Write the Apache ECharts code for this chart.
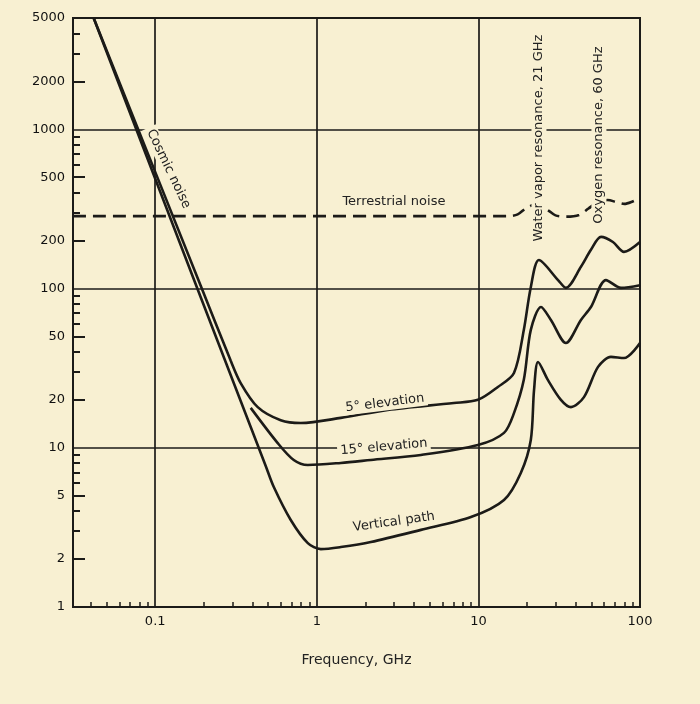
<!DOCTYPE html>
<html>
<head>
<meta charset="utf-8">
<script src="https://cdn.jsdelivr.net/npm/echarts@6/dist/echarts.min.js"></script>
<style>
html, body { margin: 0; padding: 0; background: #f8f0d2; }
#chart { width: 700px; height: 704px; }
</style>
</head>
<body>
<div id="chart"></div>
<script>
// axis labels and ticks
var xLabels = [0.1, 1, 10, 100];
var xMinorTicks = [0.04, 0.05, 0.06, 0.07, 0.08, 0.09,
    0.2, 0.3, 0.4, 0.5, 0.6, 0.7, 0.8, 0.9,
    2, 3, 4, 5, 6, 7, 8, 9,
    20, 30, 40, 50, 60, 70, 80, 90];
var yLabels = [1, 2, 5, 10, 20, 50, 100, 200, 500, 1000, 2000, 5000];
var yMajorTicks = [2, 5, 20, 50, 200, 500, 2000];
var yMinorTicks = [3, 4, 6, 7, 8, 9, 30, 40, 60, 70, 80, 90,
    300, 400, 600, 700, 800, 900, 3000, 4000];
var xGridLines = [0.1, 1, 10];
var yGridLines = [10, 100, 1000];

// [frequency GHz, noise temperature K]
var elevation5 = [[0.0416, 5000], [0.191, 104.6], [0.293, 35.3], [0.338, 25.5], [0.431, 18.0],
    [0.598, 14.9], [0.796, 14.3], [1.408, 15.4], [2.75, 17.3], [7.05, 19.1], [9.93, 20.0],
    [13.2, 24.1], [16.6, 29.5], [19.1, 55.0], [21.1, 102], [23.7, 151], [31.1, 113],
    [34.8, 101], [43.1, 137], [49.7, 175], [57.4, 211], [68, 196], [79.6, 170], [100, 196]];
var elevation15 = [[0.390, 17.8], [0.573, 10.7], [0.720, 8.38], [0.880, 7.80], [1.408, 8.03],
    [2.16, 8.38], [4.41, 9.01], [9.93, 10.4], [14.4, 12.4], [16.6, 16.5], [19.1, 26.7],
    [21.1, 55.0], [24.4, 76.6], [28.1, 63.5], [34.8, 45.5], [43.1, 63.5], [49.7, 76.6],
    [61.6, 113], [76.3, 101], [100, 105]];
var verticalPath = [[0.0416, 5000], [0.191, 88.5], [0.390, 13.5], [0.483, 7.69], [0.542, 5.67],
    [0.690, 3.52], [0.880, 2.52], [1.059, 2.31], [1.408, 2.38], [2.16, 2.56], [4.41, 3.05],
    [8.99, 3.67], [14.4, 4.70], [18.3, 6.95], [21.1, 11.2], [22.1, 23.1], [23.4, 34.6],
    [26.9, 26.7], [32.4, 20.0], [37.4, 18.0], [45.0, 20.8], [55.0, 32.2], [66.1, 37.2],
    [79.6, 36.6], [100, 45.5]];
var terrestrial = [[0.031, 285], [15.5, 285], [17.5, 292], [19.6, 318], [23, 340],
    [27, 310], [30, 288], [35, 283], [42, 290], [48, 318], [54, 345], [63, 360],
    [72, 348], [80, 340], [90, 352], [100, 370]];

// text notes, placed at [frequency, temperature]
var notes = [
    {text: 'Cosmic noise', at: [0.121, 564], rot: -64.5},
    {text: 'Terrestrial noise', at: [3.0, 350], rot: 0},
    {text: '5° elevation', at: [2.64, 19.1], rot: 7},
    {text: '15° elevation', at: [2.6, 10.1], rot: 5},
    {text: 'Vertical path', at: [3.0, 3.42], rot: 8},
    {text: 'Water vapor resonance, 21 GHz', at: [23.7, 880], rot: 90},
    {text: 'Oxygen resonance, 60 GHz', at: [55.7, 920], rot: 90}
];

var paper = '#f8f0d2';
var ink = '#1c1b18';
var font = '"DejaVu Sans", sans-serif';

function fmt(v) {
    return String(parseFloat(Number(v).toPrecision(6)));
}

function curve(name, data, dashed) {
    return {
        name: name,
        type: 'line',
        data: data,
        smooth: 0.3,
        showSymbol: false,
        silent: true,
        lineStyle: {color: ink, width: 2.6, type: dashed ? [13, 7] : 'solid'}
    };
}

var chart = echarts.init(document.getElementById('chart'));
var series = [
    curve('Vertical path', verticalPath),
    curve('5° elevation', elevation5),
    curve('15° elevation', elevation15),
    curve('Terrestrial noise', terrestrial, true)
];
series[0].markLine = {
    silent: true,
    symbol: ['none', 'none'],
    label: {show: false},
    lineStyle: {color: ink, width: 1.7, type: 'solid'},
    data: xGridLines.map(function (v) { return {xAxis: v}; })
        .concat(yGridLines.map(function (v) { return {yAxis: v}; }))
};

var option = {
    backgroundColor: paper,
    animation: false,
    grid: {
        left: 73, right: 60, top: 18, bottom: 97,
        show: true, borderColor: ink, borderWidth: 2, backgroundColor: 'transparent'
    },
    xAxis: {
        type: 'log',
        min: 0.031,
        max: 100,
        axisLine: {lineStyle: {color: ink, width: 2}},
        axisTick: {inside: true, length: 5, customValues: xMinorTicks, lineStyle: {color: ink, width: 1.5}},
        axisLabel: {customValues: xLabels, margin: 8, color: '#111', fontFamily: font, fontSize: 13, formatter: fmt},
        splitLine: {show: false},
        name: 'Frequency, GHz',
        nameLocation: 'middle',
        nameGap: 46,
        nameTextStyle: {color: '#222', fontFamily: font, fontSize: 14}
    },
    yAxis: [{
        type: 'log',
        min: 1,
        max: 5000,
        axisLine: {lineStyle: {color: ink, width: 2}},
        axisTick: {inside: true, length: 12, customValues: yMajorTicks, lineStyle: {color: ink, width: 2}},
        axisLabel: {customValues: yLabels, margin: 8, color: '#111', fontFamily: font, fontSize: 13, formatter: fmt},
        splitLine: {show: false}
    }, {
        type: 'log',
        min: 1,
        max: 5000,
        position: 'left',
        axisLine: {show: false},
        axisTick: {inside: true, length: 7, customValues: yMinorTicks, lineStyle: {color: ink, width: 2}},
        axisLabel: {show: false},
        splitLine: {show: false}
    }],
    series: series
};
chart.setOption(option);

// put the notes on top, with paper behind them like the gaps in the print
var graphics = notes.map(function (n) {
    var p = chart.convertToPixel({gridIndex: 0}, n.at);
    return {
        type: 'text',
        x: p[0],
        y: p[1],
        rotation: n.rot * Math.PI / 180,
        z: 100,
        silent: true,
        style: {
            text: n.text,
            font: '13px ' + font,
            fill: '#222',
            align: 'center',
            verticalAlign: 'middle',
            backgroundColor: paper,
            padding: [1, 3]
        }
    };
});
chart.setOption({graphic: graphics});
</script>
</body>
</html>
